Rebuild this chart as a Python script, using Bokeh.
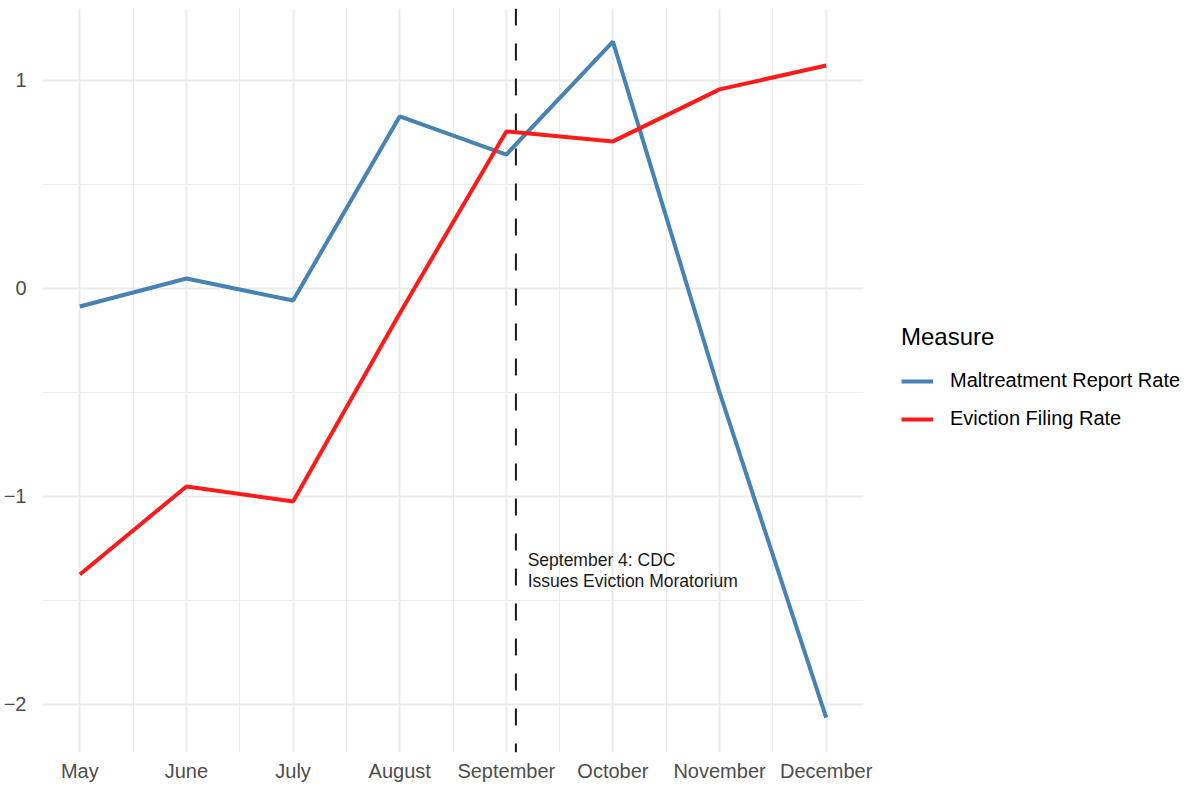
from bokeh.plotting import figure
from bokeh.models import (FixedTicker, Legend, LegendItem, Span, ColumnDataSource, Range1d)
from bokeh.core.properties import value
from bokeh.embed import file_html
from bokeh.resources import INLINE

months = ["May", "June", "July", "August", "September", "October", "November", "December"]
month_pos = [1, 2, 3, 4, 5, 6, 7, 8]
maltreatment = [-0.087, 0.048, -0.058, 0.827, 0.644, 1.187, -0.50, -2.063]
eviction = [-1.375, -0.952, -1.024, -0.12, 0.755, 0.707, 0.957, 1.072]
y_ticks = [-2, -1, 0, 1]
y_tick_labels = ["\u22122", "\u22121", "0", "1"]
moratorium_x = 5.09
note_x = 5.2
note_y = -1.355
note_text = "September 4: CDC\nIssues Eviction Moratorium"

FONT = "Liberation Sans"

p = figure(frame_width=821, frame_height=744, output_backend="svg", toolbar_location=None,
           x_range=Range1d(0.65, 8.35), y_range=Range1d(-2.231, 1.346),
           min_border_left=36, min_border_right=320, min_border_top=8, min_border_bottom=24)
p.outline_line_color = None
p.background_fill_color = "white"
p.border_fill_color = "white"

# axes
p.xaxis.ticker = FixedTicker(ticks=month_pos, minor_ticks=[1.5, 2.5, 3.5, 4.5, 5.5, 6.5, 7.5])
p.xaxis.major_label_overrides = {m: lab for m, lab in zip(month_pos, months)}
p.yaxis.ticker = FixedTicker(ticks=y_ticks, minor_ticks=[-1.5, -0.5, 0.5])
p.yaxis.major_label_overrides = {t: lab for t, lab in zip(y_ticks, y_tick_labels)}
for ax in (p.xaxis, p.yaxis):
    ax.axis_line_color = None
    ax.major_tick_line_color = None
    ax.minor_tick_line_color = None
    ax.major_label_text_font = FONT
    ax.major_label_text_font_size = "20px"
    ax.major_label_text_color = "#4D4D4D"
p.xaxis.major_label_standoff = 1
p.yaxis.major_label_standoff = 10

# grid
for g in (p.xgrid, p.ygrid):
    g.grid_line_color = "#EBEBEB"
    g.grid_line_width = 2
    g.minor_grid_line_color = "#EBEBEB"
    g.minor_grid_line_width = 1

src = ColumnDataSource(dict(x=month_pos, m=maltreatment, e=eviction))
r1 = p.line("x", "m", source=src, line_color="#4682B4", line_width=4)
r2 = p.line("x", "e", source=src, line_color="#FF1A1A", line_width=4)

vline = Span(location=moratorium_x, dimension="height", line_color="#1A1A1A",
             line_width=2, line_dash="17 18")
p.add_layout(vline)

p.text(x=[note_x], y=[note_y], text=[note_text], text_font=value(FONT),
       text_font_size="17.5px", text_color="#1A1A1A", text_align="left",
       text_baseline="middle", text_line_height=1.05)

legend = Legend(items=[LegendItem(label="Maltreatment Report Rate", renderers=[r1]),
                       LegendItem(label="Eviction Filing Rate", renderers=[r2])],
                location=(38, 322), title="Measure")
legend.title_text_font = FONT
legend.title_text_font_size = "24px"
legend.title_text_color = "black"
legend.title_text_font_style = "normal"
legend.title_standoff = 18
legend.label_text_font = FONT
legend.label_text_font_size = "20px"
legend.label_text_color = "black"
legend.glyph_width = 32
legend.glyph_height = 20
legend.label_height = 20
legend.label_standoff = 17
legend.spacing = 15
legend.padding = 0
legend.margin = 0
legend.border_line_color = None
legend.background_fill_alpha = 0
p.add_layout(legend, "right")

open("out.html", "w").write(file_html(p, INLINE))
